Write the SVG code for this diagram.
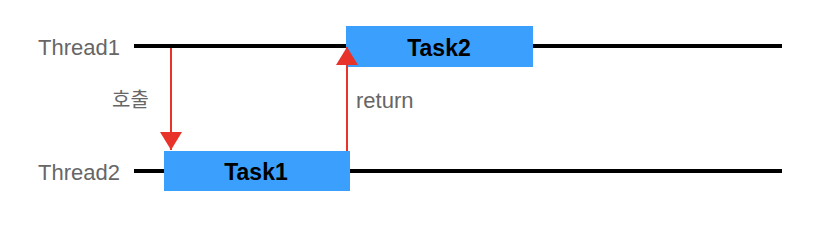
<svg xmlns="http://www.w3.org/2000/svg" width="822" height="228" viewBox="0 0 822 228">
<style>
.lbl{font-family:"Liberation Sans",Arial,"Noto Sans CJK KR",sans-serif;font-size:22px;fill:#666666}
.task{fill:#3b9ffd}
.tt{font-family:"Liberation Sans",Arial,sans-serif;font-size:23px;font-weight:bold;fill:#000;text-anchor:middle}
.tl{stroke:#000;stroke-width:4}
.ar{stroke:#e8332a;stroke-width:2;fill:none}
</style>
<defs>
<marker id="ah" viewBox="0 0 10 10" refX="10" refY="5" markerWidth="18" markerHeight="22" markerUnits="userSpaceOnUse" orient="auto" preserveAspectRatio="none"><path d="M0,0 L10,5 L0,10 z" fill="#e8332a"/></marker>
</defs>
<g id="thread1">
<text class="lbl" x="38" y="55">Thread1</text>
<line class="tl" x1="134" y1="46" x2="782" y2="46"/>
</g>
<g id="thread2">
<text class="lbl" x="38" y="180">Thread2</text>
<line class="tl" x1="134" y1="171" x2="782" y2="171"/>
</g>
<g id="task1">
<rect class="task" x="164" y="151" width="186" height="40"/>
<text class="tt" x="256" y="180">Task1</text>
</g>
<g id="task2">
<rect class="task" x="346" y="26" width="187" height="41"/>
<text class="tt" x="439" y="56">Task2</text>
</g>
<g id="connectors">
<line class="ar" x1="171" y1="48" x2="171" y2="150" marker-end="url(#ah)"/>
<line class="ar" x1="347" y1="151" x2="347" y2="47" marker-end="url(#ah)"/>
<text class="lbl" x="112" y="107" style="font-size:20px">호출</text>
<text class="lbl" x="356" y="108">return</text>
</g>
</svg>
